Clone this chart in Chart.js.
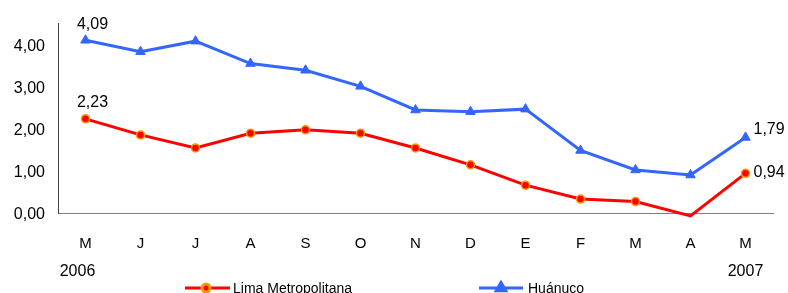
<!DOCTYPE html>
<html>
<head>
<meta charset="utf-8">
<script src="https://cdn.jsdelivr.net/npm/chart.js@4/dist/chart.umd.min.js"></script>
<style>
  body { margin: 0; background: #fff; }
  #wrap { width: 788px; height: 293px; position: relative; }
</style>
</head>
<body>
<div id="wrap"><canvas id="chart"></canvas></div>
<script>
// Data
const months = ['M', 'J', 'J', 'A', 'S', 'O', 'N', 'D', 'E', 'F', 'M', 'A', 'M'];
const years = ['2006', '2007'];
const limaValues = [2.23, 1.85, 1.54, 1.89, 1.97, 1.89, 1.54, 1.14, 0.66, 0.33, 0.27, -0.07, 0.94];
const huanucoValues = [4.09, 3.82, 4.07, 3.54, 3.38, 3.00, 2.44, 2.40, 2.46, 1.48, 1.02, 0.90, 1.79];
const yTicks = [0, 1, 2, 3, 4];

const LIMA_RED = '#FF0000';
const LIMA_ORANGE = '#FF9900';
const HUANUCO_BLUE = '#3366FF';
const REG = '"Liberation Sans", Arial, sans-serif';
const NARROW = '"Liberation Sans Narrow", "Liberation Sans", Arial, sans-serif';

const fmt = v => v.toFixed(2).replace('.', ',');

// Lima point under the axis has no visible marker
const limaRadius = limaValues.map(v => (v < 0 ? 0 : 4));

// Value labels on first/last points, years and legend
const extrasPlugin = {
  id: 'extras',
  afterDatasetsDraw(chart) {
    const ctx = chart.ctx;
    const x = chart.scales.x;
    const y = chart.scales.y;
    const last = months.length - 1;
    ctx.save();
    ctx.fillStyle = '#000';
    ctx.font = '16px ' + REG;
    ctx.textBaseline = 'middle';

    // first points: label above
    ctx.textAlign = 'center';
    ctx.fillText(fmt(huanucoValues[0]), x.getPixelForValue(0) + 7, y.getPixelForValue(huanucoValues[0]) - 16);
    ctx.fillText(fmt(limaValues[0]), x.getPixelForValue(0) + 7, y.getPixelForValue(limaValues[0]) - 16);

    // last points: label to the right
    ctx.textAlign = 'left';
    ctx.fillText(fmt(huanucoValues[last]), x.getPixelForValue(last) + 8, y.getPixelForValue(huanucoValues[last]) - 8);
    ctx.fillText(fmt(limaValues[last]), x.getPixelForValue(last) + 8, y.getPixelForValue(limaValues[last]) - 1);

    // years under first and last month
    ctx.textAlign = 'center';
    ctx.fillText(years[0], x.getPixelForValue(0) - 8, 272);
    ctx.fillText(years[1], x.getPixelForValue(last), 272);

    // legend
    const items = [
      { label: 'Lima Metropolitana', x0: 185, x1: 230, mx: 206, tx: 233, ds: chart.data.datasets[0] },
      { label: 'Huánuco', x0: 479, x1: 523, mx: 501, tx: 528, ds: chart.data.datasets[1] }
    ];
    const ly = 288;
    items.forEach(it => {
      ctx.strokeStyle = it.ds.borderColor;
      ctx.lineWidth = 3;
      ctx.beginPath();
      ctx.moveTo(it.x0, ly);
      ctx.lineTo(it.x1, ly);
      ctx.stroke();
      ctx.fillStyle = it.ds.pointBackgroundColor;
      ctx.strokeStyle = it.ds.pointBorderColor;
      Chart.helpers.drawPoint(ctx, {
        pointStyle: it.ds.pointStyle,
        radius: it.ds.pointStyle === 'triangle' ? 5.5 : 4,
        borderWidth: it.ds.pointBorderWidth,
        rotation: 0
      }, it.mx, ly);
      ctx.fillStyle = '#000';
      ctx.font = '14px ' + NARROW;
      ctx.textAlign = 'left';
      ctx.fillText(it.label, it.tx, ly + 1);
    });
    ctx.restore();
  }
};

const ctx = document.getElementById('chart').getContext('2d');
const chart = new Chart(ctx, {
  type: 'line',
  data: {
    labels: months,
    datasets: [
      {
        label: 'Lima Metropolitana',
        data: limaValues,
        borderColor: LIMA_RED,
        borderWidth: 3,
        pointStyle: 'circle',
        pointRadius: limaRadius,
        pointBackgroundColor: LIMA_RED,
        pointBorderColor: LIMA_ORANGE,
        pointBorderWidth: 1.5,
        tension: 0,
        clip: false
      },
      {
        label: 'Huánuco',
        data: huanucoValues,
        borderColor: HUANUCO_BLUE,
        borderWidth: 3,
        pointStyle: 'triangle',
        pointRadius: 5.5,
        pointBackgroundColor: HUANUCO_BLUE,
        pointBorderColor: HUANUCO_BLUE,
        pointBorderWidth: 1,
        tension: 0,
        clip: false
      }
    ]
  },
  options: {
    responsive: true,
    maintainAspectRatio: false,
    animation: false,
    layout: { padding: { top: 23, right: 15, left: 0, bottom: 0 } },
    plugins: {
      legend: { display: false },
      tooltip: { enabled: false }
    },
    scales: {
      x: {
        offset: true,
        grid: { display: false, drawTicks: false },
        border: { display: true, color: '#808080', width: 1 },
        ticks: { color: '#000', font: { family: NARROW, size: 15 }, padding: 22, maxRotation: 0 },
        afterFit: s => { s.height = 80; }
      },
      y: {
        min: 0,
        max: 4.5,
        grid: { display: false, drawTicks: false },
        border: { display: true, color: '#404040', width: 1 },
        ticks: {
          stepSize: 1,
          color: '#000',
          font: { family: REG, size: 16 },
          padding: 13,
          labelOffset: 2,
          callback: v => fmt(v)
        },
        afterBuildTicks: s => { s.ticks = yTicks.map(v => ({ value: v })); },
        afterFit: s => { s.width = 58; }
      }
    }
  },
  plugins: [extrasPlugin]
});
</script>
</body>
</html>
